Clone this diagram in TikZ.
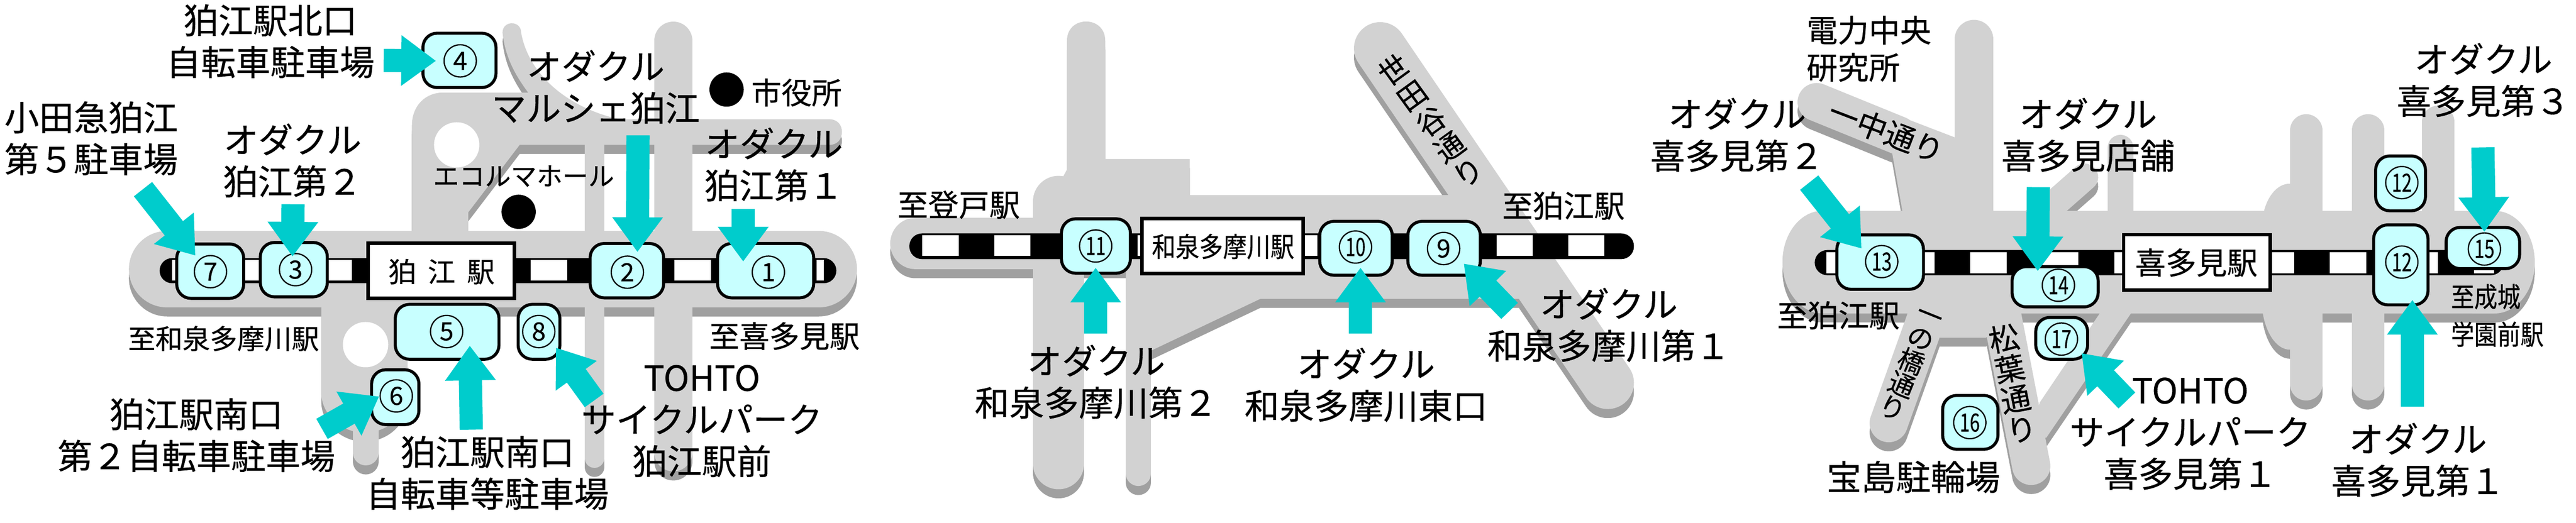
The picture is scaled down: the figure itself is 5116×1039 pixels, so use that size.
\documentclass[tikz,border=0pt]{standalone}
\usepackage{fontspec}
\setmainfont{Noto Sans CJK JP}[FakeBold=0.5]
\usetikzlibrary{arrows.meta}
\definecolor{roadc}{HTML}{D2D2D2}
\definecolor{shadec}{HTML}{A0A0A0}
\definecolor{boxc}{HTML}{C8FFFF}
\definecolor{arrc}{HTML}{00CCCC}
\newcommand\roadset[1]{%
  % left panel
  \fill[#1,rounded corners=0.76cm] (256,459) rectangle (1702,611);
  \fill[#1] (818,470) -- (818,250) .. controls (818,210) and (845,184) .. (880,184)
    -- (1049,184) .. controls (1020,145) and (1003,110) .. (998,65)
    .. controls (998,40) and (1035,40) .. (1035,65)
    .. controls (1050,150) and (1130,215) .. (1230,237)
    -- (1646,237) .. controls (1665,237) and (1672,250) .. (1672,262)
    .. controls (1672,275) and (1665,288) .. (1646,288)
    -- (1032,288) -- (930,422) -- (930,470) -- cycle;
  \draw[#1,line width=0.76cm,line cap=round] (1337,81) -- (1337,899);
  \draw[#1,line width=0.39cm,line cap=round] (1180.5,260) -- (1180.5,910.5);
  \fill[#1] (638,590) -- (638,780) .. controls (638,825) and (680,860) .. (723,860)
    .. controls (770,860) and (809,825) .. (809,780) -- (809,590) -- cycle;
  \draw[#1,line width=0.51cm,line cap=round] (726.5,840) -- (726.5,899.5);
  % middle panel
  \fill[#1] (1818,433) -- (2067,433) -- (2119,337) -- (2119,81)
    .. controls (2119,30) and (2195,30) .. (2195,81) -- (2195,316) -- (2363,316) -- (2363,388)
    -- (2960,388) -- (3060,594) -- (2503,594) -- (2286,697) -- (2236,697) -- (2236,535)
    -- (1818,535) arc[start angle=270,end angle=90,x radius=0.5cm,y radius=0.51cm] -- cycle;
  \draw[#1,line width=1.01cm,line cap=round] (2102.5,400) -- (2102.5,922);
  \draw[#1,line width=0.50cm,line cap=round] (2261,600) -- (2261,941);
  \draw[#1,line width=1.04cm,line cap=round] (2741,96) -- (3193,761);
  % right panel
  \fill[#1] (3620,419) -- (4954,419) arc[start angle=90,end angle=0,x radius=0.8cm,y radius=1.02cm]
    arc[start angle=0,end angle=-90,x radius=0.8cm,y radius=1.02cm]
    -- (3620,623) arc[start angle=270,end angle=90,x radius=0.8cm,y radius=1.02cm] -- cycle;
  \draw[#1,line width=0.77cm,line cap=round] (3920.5,78) -- (3920.5,450);
  \draw[#1,line width=0.76cm,line cap=round] (3608,203) -- (3770,269);
  \fill[#1] (3758,305) -- (3780,430) -- (3959,430) -- (3959,419) -- (3882,273) -- (3770,230) -- cycle;
  \draw[#1,line width=0.54cm,line cap=round] (4140,352) -- (4040,440);
  \draw[#1,line width=0.51cm,line cap=round] (4211,293.5) -- (4211,450);
  \fill[#1] (4494,430) .. controls (4500,395) and (4520,365) .. (4548,365) -- (4600,365) -- (4600,695)
    -- (4548,695) .. controls (4520,695) and (4500,660) .. (4494,623) -- cycle;
  \draw[#1,line width=0.64cm,line cap=round] (4580,259) -- (4580,764);
  \draw[#1,line width=0.64cm,line cap=round] (4703,259) -- (4703,764);
  \draw[#1,line width=0.64cm,line cap=round] (4842,242) -- (4842,500);
  \draw[#1,line width=0.76cm,line cap=round] (3751,841) -- (3837,600);
  \draw[#1,line width=0.76cm,line cap=round] (4034,926) -- (3971,600);
  \fill[#1] (3788,610) -- (3788,623) -- (3853,671) -- (3944,671) -- (4013,623) -- (4013,610) -- cycle;
  \fill[#1] (4170,610) -- (4170,623) -- (4051,800) -- (4030,870) -- (4064,870) -- (4232,623) -- (4232,610) -- cycle;
}
\newcommand\bx[5]{%
  \pgfmathsetmacro\cxx{(#2+#4)/2}\pgfmathsetmacro\cyy{(#3+#5)/2}%
  \pgfmathsetmacro\ww{(#4-#2-6)*0.01}\pgfmathsetmacro\hh{(#5-#3-6)*0.01}%
  \node[parkbox,minimum width=\ww cm,minimum height=\hh cm] (#1) at (\cxx,\cyy) {};}
\newcommand\st[5]{%
  \pgfmathsetmacro\cxx{(#2+#4)/2}\pgfmathsetmacro\cyy{(#3+#5)/2}%
  \pgfmathsetmacro\ww{(#4-#2-7)*0.01}\pgfmathsetmacro\hh{(#5-#3-7)*0.01}%
  \node[stationbox,minimum width=\ww cm,minimum height=\hh cm] (#1) at (\cxx,\cyy) {};}
\newcommand\arw[5]{\coordinate (t#1) at (#2,#3);\coordinate (h#1) at (#4,#5);\draw[pointer] (t#1) -- (h#1);}
\tikzset{
  parkbox/.style={draw=black,fill=boxc,line width=0.06cm,rounded corners=0.28cm,inner sep=0pt},
  stationbox/.style={draw=black,fill=white,line width=0.07cm,inner sep=0pt},
  numc/.style={draw=black,circle,line width=0.025cm,minimum size=0.64cm,inner sep=0pt,font=\fontsize{14.2}{14.2}\selectfont},
  pointer/.style={draw=arrc,fill=arrc,line width=0.46cm,-{Triangle[length=0.69cm,width=0.96cm]}},
  lab/.style={inner sep=0pt,align=center,text=black},
  tA/.style={lab,font=\fontsize{19.6}{23.6}\selectfont},
  dotn/.style={circle,fill=black,minimum size=0.68cm,inner sep=0pt},
}
\begin{document}
\begin{tikzpicture}[x=0.01cm,y=-0.01cm]
\useasboundingbox (0,0) rectangle (5116,1039);
\begin{scope}[yshift=-0.18cm]
\roadset{shadec}
\end{scope}
\roadset{roadc}
% holes
\fill[white] (907,288) circle[radius=0.45cm];
\fill[white] (726,685) circle[radius=0.45cm];
% railway lines
\fill[black,rounded corners=0.25cm] (317,513) rectangle (1661,563);
\foreach \a in {483.5,626,768.5,911,1054,1196.5,1339,1481.5} \fill[white] (\a,517) rectangle ++(72.5,41);
\fill[white] (342,517) rectangle (360,558);
\fill[white] (1622,517) rectangle (1636,558);
\fill[black,rounded corners=0.25cm] (1806,464) rectangle (3245,515);
\foreach \a in {1832,1974.5,2117,2259.5,2544.5,2687,2829.5,2972,3114.5} \fill[white] (\a,468) rectangle ++(72,41);
\fill[black,rounded corners=0.25cm] (3604,497) rectangle (4972,547);
\foreach \a in {3627,3770,3913,4056,4484,4627,4770} \fill[white] (\a,501) rectangle ++(72,42);
\fill[white] (4199,501) rectangle (4214,543);
\fill[white] (4913,501) rectangle (4953,543);
% stations
\st{sa}{728}{480}{1025}{596}
\node[lab,font=\fontsize{15.6}{18}\selectfont] at (877,540) {狛\hspace{0.42em}江\hspace{0.42em}駅};
\st{sb}{2264}{431}{2592}{547}
\node[lab,font=\fontsize{15.4}{18}\selectfont] at (2429,490) {\scalebox{.87}[1]{和泉多摩川駅}};
\st{sc}{4214}{463}{4512}{580}
\node[lab,font=\fontsize{17.3}{20}\selectfont] at (4362,522) {喜多見駅};
% parking boxes
\bx{b7}{348}{482}{487}{596}
\bx{b3}{514}{479}{653}{593}
\bx{b1}{1422}{481}{1619}{595}
\bx{b2}{1169}{481}{1321}{595}
\bx{b5}{782}{602}{994}{717}
\bx{b8}{1026}{602}{1115}{717}
\bx{b6}{735}{732}{835}{847}
\bx{b4}{837}{63}{988}{177}
\bx{b11}{2105}{432}{2248}{546}
\bx{b10}{2618}{437}{2768}{550}
\bx{b9}{2793}{437}{2943}{550}
\bx{b13}{3645}{464}{3823}{578}
\bx{b17}{4040}{628}{4149}{717}
\bx{b14}{3993}{527}{4170}{613}
\bx{b16}{3855}{783}{3971}{896}
\bx{b12u}{4715}{307}{4820}{422}
\bx{b12}{4711}{444}{4825}{609}
\bx{b15}{4855}{449}{5007}{537}
% number circles
\node[numc] (c1) at (1526,541) {1};
\node[numc] (c2) at (1246,541) {2};
\node[numc] (c3) at (587,536) {3};
\node[numc] (c4) at (914,121) {4};
\node[numc] (c5) at (887,659) {5};
\node[numc] (c6) at (787,787) {6};
\node[numc] (c7) at (418,540) {7};
\node[numc] (c8) at (1070,659) {8};
\node[numc] (c9) at (2867,494) {9};
\node[numc] (c10) at (2692,491) {\scalebox{.72}[1]{10}};
\node[numc] (c11) at (2176,489) {\scalebox{.72}[1]{11}};
\node[numc] (c12u) at (4770,363) {\scalebox{.72}[1]{12}};
\node[numc] (c12) at (4770,521) {\scalebox{.72}[1]{12}};
\node[numc] (c13) at (3737,520) {\scalebox{.72}[1]{13}};
\node[numc] (c14) at (4088,567) {\scalebox{.72}[1]{14}};
\node[numc] (c15) at (4934,495) {\scalebox{.72}[1]{15}};
\node[numc] (c16) at (3912,840) {\scalebox{.72}[1]{16}};
\node[numc] (c17) at (4094,674) {\scalebox{.72}[1]{17}};
% arrows
\arw{4}{762}{120}{866}{121}
\arw{7}{284}{376}{388}{508}
\arw{3}{582}{406}{581}{510}
\arw{2}{1267}{269}{1266}{501}
\arw{1}{1476}{415}{1476}{520}
\arw{6}{639.5}{852.5}{753}{788}
\arw{5}{936}{854}{933}{687}
\arw{8}{1180}{796}{1104}{691}
\arw{11}{2176}{663}{2176}{532}
\arw{10}{2702}{663}{2702}{532}
\arw{9}{2998}{618}{2907}{524}
\arw{13}{3593}{363}{3697}{494}
\arw{14}{4048}{372}{4047}{539}
\arw{15}{4931}{293}{4934}{461}
\arw{12}{4791}{808}{4791}{596}
\arw{17}{4224}{796}{4134}{702}
% dots
\node[dotn] (d1) at (1443,178) {};
\node[dotn] (d2) at (1030,421) {};
% labels
\node[tA] (l1) at (537,82) {狛江駅北口\\自転車駐車場};
\node[tA] (l2) at (181,275) {小田急狛江\\第５駐車場};
\node[tA] (l3) at (581,319) {オダクル\\狛江第２};
\node[tA] (l4) at (1183,173) {オダクル\\マルシェ狛江};
\node[lab,font=\fontsize{17}{20}\selectfont] (l5) at (1582,184) {市役所};
\node[lab,font=\fontsize{14.6}{17}\selectfont] (l6) at (1040,350) {エコルマホール};
\node[tA] (l7) at (1537,327) {オダクル\\狛江第１};
\node[lab,font=\fontsize{15.4}{18}\selectfont] (l8) at (444,673) {至和泉多摩川駅};
\node[lab,font=\fontsize{17}{20}\selectfont] (l9) at (1558,668) {至喜多見駅};
\node[tA] (l10) at (390,865) {狛江駅南口\\第２自転車駐車場};
\node[tA] (l11) at (968,940) {狛江駅南口\\自転車等駐車場};
\node[tA] (l12) at (1394,837) {TOHTO\\サイクルパーク\\狛江駅前};
\node[lab,font=\fontsize{17.3}{20}\selectfont] (l13) at (1904,407) {至登戸駅};
\node[tA] (l14) at (2177,759) {オダクル\\和泉多摩川第２};
\node[tA] (l15) at (2713,765) {オダクル\\和泉多摩川東口};
\node[lab,font=\fontsize{16.5}{17.9}\selectfont,rotate=36] (l16) at (2841,240) {世\\田\\谷\\通\\り};
\node[lab,font=\fontsize{17.3}{20}\selectfont] (l17) at (3105,409) {至狛江駅};
\node[tA] (l18) at (3195,646) {オダクル\\和泉多摩川第１};
\node[lab,align=left,font=\fontsize{17.6}{21}\selectfont] (l19) at (3587,97) [anchor=west] {電力中央\\研究所};
\node[tA] (l20) at (3450,268) {オダクル\\喜多見第２};
\node[tA] (l21) at (4147,268) {オダクル\\喜多見店舗};
\node[lab,font=\fontsize{17}{20}\selectfont,rotate=-21] (l22) at (3746,261) {一中通り};
\node[lab,font=\fontsize{14.8}{14.2}\selectfont,rotate=-22] (l23) at (3792,727) {一\\の\\橋\\通\\り};
\node[lab,font=\fontsize{17}{17.4}\selectfont,rotate=11] (l24) at (3997,762) {松\\葉\\通\\り};
\node[lab,font=\fontsize{17.3}{20}\selectfont] (l25) at (3651,627) {至狛江駅};
\node[tA] (l26) at (3800,948) {宝島駐輪場};
\node[tA] (l27) at (4350,862) {TOHTO\\サイクルパーク\\喜多見第１};
\node[tA] (l28) at (4802,914) {オダクル\\喜多見第１};
\node[lab,align=left,font=\fontsize{15.4}{21.3}\selectfont] (l29) at (4867,627) [anchor=west] {\scalebox{.85}[1]{至成城}\\\scalebox{.85}[1]{学園前駅}};
\node[tA] (l30) at (4932,159) {オダクル\\喜多見第３};
\end{tikzpicture}
\end{document}
